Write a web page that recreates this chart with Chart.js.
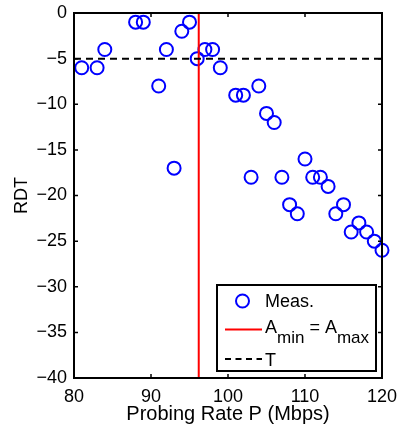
<!DOCTYPE html>
<html>
<head>
<meta charset="utf-8">
<script src="https://cdn.jsdelivr.net/npm/chart.js@4/dist/chart.umd.min.js"></script>
<style>
  html, body { margin: 0; padding: 0; background: #fff; }
  #wrap { width: 401px; height: 426px; }
</style>
</head>
<body>
<div id="wrap"><canvas id="myChart" width="401" height="426"></canvas></div>
<script>
// measured points (probing rate vs RDT)
var rateMbps = [81, 83, 84, 88, 89, 91, 92, 93, 94, 95, 96, 97, 98, 99, 101, 102, 103, 104, 105, 106, 107, 108, 109, 110, 111, 112, 113, 114, 115, 116, 117, 118, 119, 120];
var rdtValues = [-6, -6, -4, -1, -1, -8, -4, -17, -2, -1, -5, -4, -4, -6, -9, -9, -18, -8, -11, -12, -18, -21, -22, -16, -18, -18, -19, -22, -21, -24, -23, -24, -25, -26];
var aMinEqualsAMax = 96.2;   // red vertical line
var thresholdT = -5;         // dashed line
var xRange = [80, 120];
var yRange = [-40, 0];
var legendNames = ["Meas.", "A", "min", " = A", "max", "T"];

var FONT = "'Liberation Sans', Arial, Helvetica, sans-serif";

var measPoints = rateMbps.map(function (r, i) { return { x: r, y: rdtValues[i] }; });

// box round the axes plus inward ticks, matlab style
var boxPlugin = {
  id: 'matlabBox',
  afterDatasetsDraw: function (chart) {
    var ctx = chart.ctx, a = chart.chartArea;
    var xs = chart.scales.x, ys = chart.scales.y;
    ctx.save();
    ctx.strokeStyle = '#000';
    ctx.lineWidth = 2;
    ctx.strokeRect(a.left, a.top, a.right - a.left, a.bottom - a.top);
    ctx.lineWidth = 1.5;
    var tl = 4;
    xs.ticks.forEach(function (t) {
      var px = xs.getPixelForValue(t.value);
      ctx.beginPath();
      ctx.moveTo(px, a.bottom); ctx.lineTo(px, a.bottom - tl);
      ctx.moveTo(px, a.top); ctx.lineTo(px, a.top + tl);
      ctx.stroke();
    });
    ys.ticks.forEach(function (t) {
      var py = ys.getPixelForValue(t.value);
      ctx.beginPath();
      ctx.moveTo(a.left, py); ctx.lineTo(a.left + tl, py);
      ctx.moveTo(a.right, py); ctx.lineTo(a.right - tl, py);
      ctx.stroke();
    });
    ctx.restore();
  },
  afterDraw: function (chart) {
    // legend (drawn by hand because of the subscripts)
    var ctx = chart.ctx, a = chart.chartArea;
    var bw = 159, bh = 86;
    var bx = a.right - 6 - bw, by = a.bottom - 7 - bh;
    ctx.save();
    ctx.fillStyle = '#fff';
    ctx.fillRect(bx, by, bw, bh);
    ctx.strokeStyle = '#000';
    ctx.lineWidth = 2;
    ctx.strokeRect(bx, by, bw, bh);

    var sx = bx + 8, tx = bx + 48;
    // Meas.
    ctx.strokeStyle = '#0000ff';
    ctx.lineWidth = 2;
    ctx.beginPath();
    ctx.arc(bx + 25.5, by + 16, 6.5, 0, Math.PI * 2);
    ctx.stroke();
    ctx.fillStyle = '#000';
    ctx.textBaseline = 'alphabetic';
    ctx.font = '18px ' + FONT;
    ctx.fillText(legendNames[0], tx, by + 22);

    // A_min = A_max
    ctx.strokeStyle = '#ff0000';
    ctx.beginPath();
    ctx.moveTo(sx, by + 44.5); ctx.lineTo(bx + 45, by + 44.5);
    ctx.stroke();
    var x = tx, base = by + 48, subBase = by + 58;
    ctx.font = '18px ' + FONT;
    ctx.fillText(legendNames[1], x, base); x += ctx.measureText(legendNames[1]).width;
    ctx.font = '17px ' + FONT;
    ctx.fillText(legendNames[2], x, subBase); x += ctx.measureText(legendNames[2]).width;
    ctx.font = '18px ' + FONT;
    ctx.fillText(legendNames[3], x, base); x += ctx.measureText(legendNames[3]).width;
    ctx.font = '17px ' + FONT;
    ctx.fillText(legendNames[4], x, subBase);

    // T
    ctx.strokeStyle = '#000';
    ctx.setLineDash([6, 4.5]);
    ctx.beginPath();
    ctx.moveTo(sx, by + 74); ctx.lineTo(bx + 45, by + 74);
    ctx.stroke();
    ctx.setLineDash([]);
    ctx.font = '18px ' + FONT;
    ctx.fillText(legendNames[5], tx, by + 81);
    ctx.restore();
  }
};

var ctx = document.getElementById('myChart').getContext('2d');
var chart = new Chart(ctx, {
  type: 'scatter',
  data: {
    datasets: [{
      label: 'T',
      data: [{ x: xRange[0], y: thresholdT }, { x: xRange[1], y: thresholdT }],
      showLine: true,
      borderColor: '#000',
      borderWidth: 2,
      borderDash: [7, 5],
      pointRadius: 0
    }, {
      label: 'A_min = A_max',
      data: [{ x: aMinEqualsAMax, y: yRange[0] }, { x: aMinEqualsAMax, y: yRange[1] }],
      showLine: true,
      borderColor: '#ff0000',
      borderWidth: 2,
      pointRadius: 0
    }, {
      label: 'Meas.',
      data: measPoints,
      pointStyle: 'circle',
      pointRadius: 6.5,
      pointBorderWidth: 2,
      borderColor: '#0000ff',
      backgroundColor: 'rgba(0,0,0,0)',
      clip: false
    }]
  },
  options: {
    responsive: false,
    animation: false,
    events: [],
    layout: { padding: { top: 13, right: 19, left: 0, bottom: 0 } },
    plugins: {
      legend: { display: false },
      tooltip: { enabled: false }
    },
    scales: {
      x: {
        type: 'linear',
        min: xRange[0], max: xRange[1],
        grid: { display: false, drawTicks: false },
        border: { display: false },
        ticks: { stepSize: 10, color: '#000', padding: 8, font: { family: FONT, size: 18 } },
        title: { display: true, text: 'Probing Rate P (Mbps)', color: '#000', padding: 0, font: { family: FONT, size: 20 } },
        afterFit: function (s) { s.height = 48; s.paddingLeft = 0; s.paddingRight = 0; }
      },
      y: {
        type: 'linear',
        min: yRange[0], max: yRange[1],
        grid: { display: false, drawTicks: false },
        border: { display: false },
        ticks: {
          stepSize: 5, color: '#000', padding: 7, font: { family: FONT, size: 18 },
          callback: function (v) { return String(v).replace('-', '\u2212'); }
        },
        title: { display: true, text: 'RDT', color: '#000', padding: { top: 11, bottom: 0 }, font: { family: FONT, size: 18 } },
        afterFit: function (s) { s.width = 74; s.paddingTop = 0; s.paddingBottom = 0; }
      }
    }
  },
  plugins: [boxPlugin]
});
</script>
</body>
</html>
